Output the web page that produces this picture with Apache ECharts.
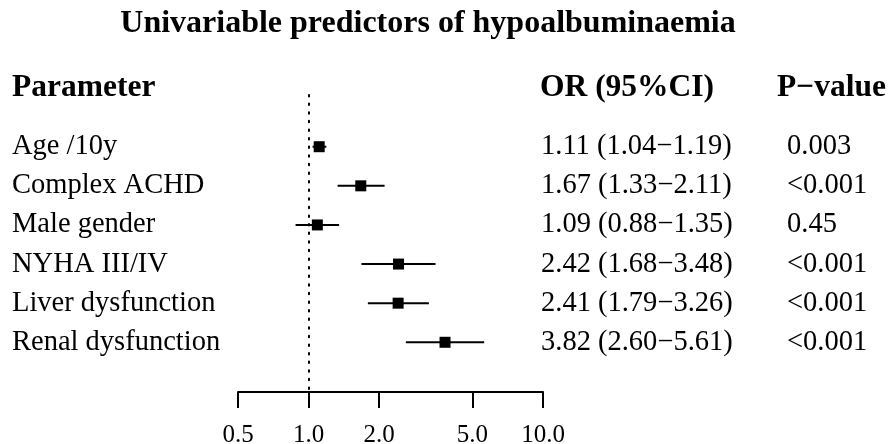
<!DOCTYPE html>
<html>
<head>
<meta charset="utf-8">
<script src="https://cdn.jsdelivr.net/npm/echarts@6/dist/echarts.min.js"></script>
<style>html,body{margin:0;padding:0;background:#fff}#c{width:888px;height:444px}</style>
</head>
<body>
<div id="c"></div>
<script>
var parameters = ['Age /10y', 'Complex ACHD', 'Male gender', 'NYHA III/IV', 'Liver dysfunction', 'Renal dysfunction'];
var orValues = [1.11, 1.67, 1.09, 2.42, 2.41, 3.82];
var ciLower = [1.04, 1.33, 0.88, 1.68, 1.79, 2.60];
var ciUpper = [1.19, 2.11, 1.35, 3.48, 3.26, 5.61];
var orText = ['1.11 (1.04\u22121.19)', '1.67 (1.33\u22122.11)', '1.09 (0.88\u22121.35)', '2.42 (1.68\u22123.48)', '2.41 (1.79\u22123.26)', '3.82 (2.60\u22125.61)'];
var pValues = ['0.003', '<0.001', '0.45', '<0.001', '<0.001', '<0.001'];
var tickValues = [0.5, 1.0, 2.0, 5.0, 10.0];
var titleText = 'Univariable predictors of hypoalbuminaemia';
var headers = ['Parameter', 'OR (95%CI)', 'P\u2212value'];

var FONT = "'Liberation Serif', 'Times New Roman', serif";
var rowData = parameters.map(function (p, i) {
  return [orValues[i], i + 1, ciLower[i], ciUpper[i]];
});
var textData = parameters.map(function (p, i) { return [1, i + 1, i]; });

var chart = echarts.init(document.getElementById('c'), null, { renderer: 'canvas' });
chart.setOption({
  animation: false,
  backgroundColor: '#fff',
  grid: { left: 238, right: 345, top: 95, bottom: 52, containLabel: false, outerBoundsMode: 'none' },
  xAxis: {
    type: 'log', logBase: 10, min: 0.5, max: 10, position: 'bottom',
    axisLine: { show: true, onZero: false, lineStyle: { color: '#000', width: 2 } },
    axisTick: { show: true, customValues: tickValues, length: 16, inside: false, lineStyle: { color: '#000', width: 2 } },
    axisLabel: {
      customValues: tickValues, margin: 31, color: '#000', fontFamily: FONT, fontSize: 25,
      formatter: function (v) { return Number(v).toFixed(1); }
    },
    splitLine: { show: false }
  },
  yAxis: {
    type: 'value', inverse: true, min: -0.322, max: 7.271, show: false
  },
  series: [
    {
      type: 'custom',
      data: rowData,
      renderItem: function (params, api) {
        var c = api.coord([api.value(0), api.value(1)]);
        var lo = api.coord([api.value(2), api.value(1)]);
        var hi = api.coord([api.value(3), api.value(1)]);
        var s = 11;
        return {
          type: 'group',
          children: [
            { type: 'line', shape: { x1: lo[0], y1: lo[1], x2: hi[0], y2: hi[1] }, style: { stroke: '#000', lineWidth: 2 } },
            { type: 'rect', shape: { x: c[0] - s / 2, y: c[1] - s / 2, width: s, height: s }, style: { fill: '#000' } }
          ]
        };
      },
      markLine: {
        silent: true, symbol: 'none', label: { show: false },
        lineStyle: { color: '#000', width: 2, type: [1.5, 7.1], cap: 'round' },
        data: [{ xAxis: 1 }]
      },
      z: 3
    },
    {
      type: 'custom',
      data: textData,
      renderItem: function (params, api) {
        var i = api.value(2);
        var y = api.coord([1, api.value(1)])[1];
        var st = { fill: '#000', fontFamily: FONT, fontSize: 28.5, verticalAlign: 'middle', align: 'left' };
        return {
          type: 'group',
          children: [
            { type: 'text', x: 12, y: y, style: Object.assign({ text: parameters[i] }, st) },
            { type: 'text', x: 541, y: y, style: Object.assign({ text: orText[i] }, st) },
            { type: 'text', x: 787, y: y, style: Object.assign({ text: pValues[i] }, st) }
          ]
        };
      },
      z: 2
    }
  ],
  graphic: [
    { type: 'text', x: 428, y: 24, style: { text: titleText, fill: '#000', fontFamily: FONT, fontWeight: 'bold', fontSize: 32, align: 'center', verticalAlign: 'middle' } },
    { type: 'text', x: 12, y: 88, style: { text: headers[0], fill: '#000', fontFamily: FONT, fontWeight: 'bold', fontSize: 31.5, align: 'left', verticalAlign: 'middle' } },
    { type: 'text', x: 540, y: 88, style: { text: headers[1], fill: '#000', fontFamily: FONT, fontWeight: 'bold', fontSize: 31.5, align: 'left', verticalAlign: 'middle' } },
    { type: 'text', x: 777, y: 88, style: { text: headers[2], fill: '#000', fontFamily: FONT, fontWeight: 'bold', fontSize: 31.5, align: 'left', verticalAlign: 'middle' } }
  ]
});
</script>
</body>
</html>
